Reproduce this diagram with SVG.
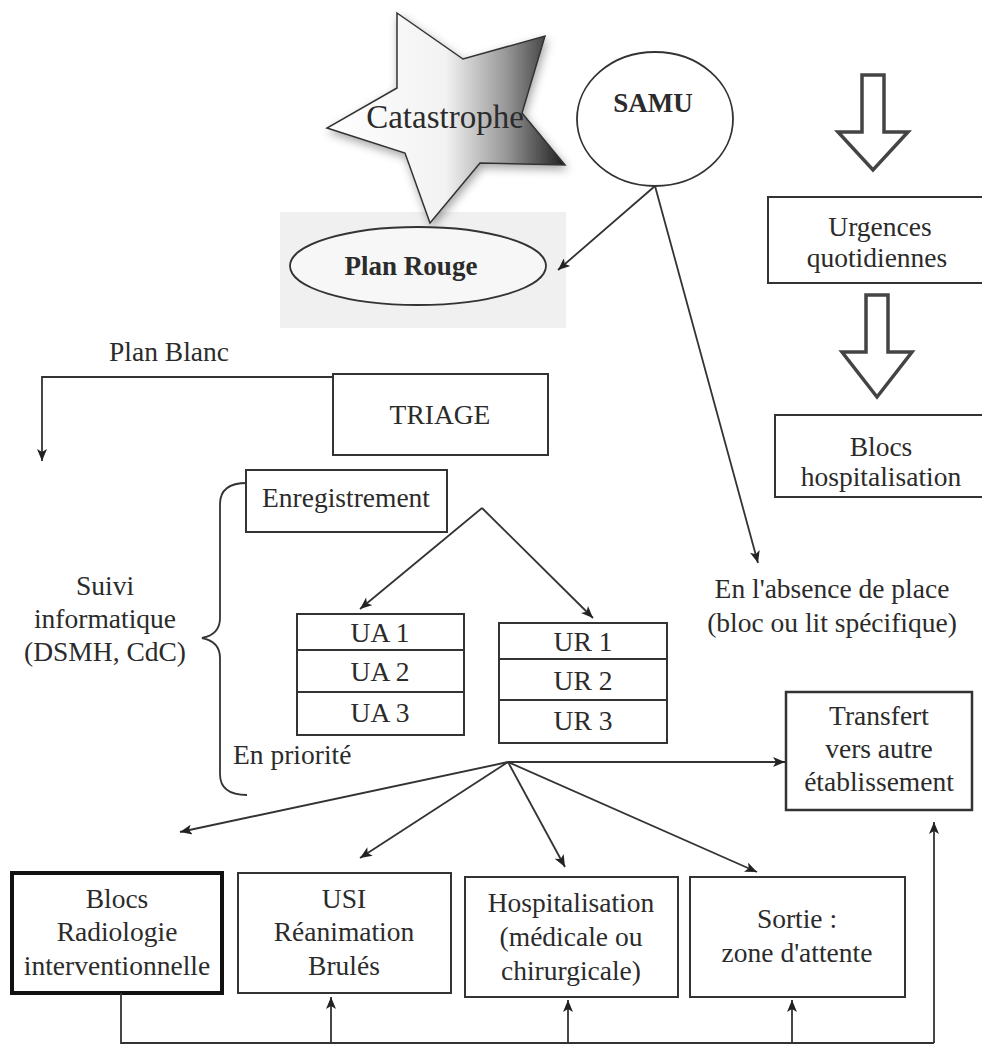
<svg xmlns="http://www.w3.org/2000/svg" width="982" height="1044" viewBox="0 0 982 1044">
<style>
text{font-family:"Liberation Serif","Times New Roman",serif;fill:#2b2b2b;text-anchor:middle;font-size:27.5px}
.b{font-weight:bold}
.box{fill:#fff;stroke:#333;stroke-width:2}
.ln{fill:none;stroke:#333;stroke-width:1.8}
.hol{fill:#fff;stroke:#444;stroke-width:3.5;stroke-linejoin:miter}
</style>
<defs>
<marker id="ah" viewBox="0 0 12 10" refX="12" refY="5" markerWidth="13" markerHeight="10" markerUnits="userSpaceOnUse" orient="auto">
<path d="M0,0 L12,5 L0,10 L3,5 Z" fill="#222"/>
</marker>
<linearGradient id="sg" x1="327" y1="0" x2="565" y2="0" gradientUnits="userSpaceOnUse">
<stop offset="0" stop-color="#fff"/>
<stop offset="0.5" stop-color="#f2f2f2"/>
<stop offset="0.75" stop-color="#999"/>
<stop offset="1" stop-color="#1e1e1e"/>
</linearGradient>
<filter id="sh" x="-20%" y="-20%" width="140%" height="140%">
<feDropShadow dx="2" dy="4" stdDeviation="5" flood-color="#000" flood-opacity="0.35"/>
</filter>
</defs>

<rect x="280" y="212" width="286" height="116" fill="#f0f0f0"/>

<g id="catastrophe">
<polygon points="397,13 463,59 545,36 522,113 565,165 480,163 430,223 405,153 327,128 397,88" fill="url(#sg)" stroke="#333" stroke-width="1.5" filter="url(#sh)"/>
<text x="445" y="128" style="font-size:33px">Catastrophe</text>
</g>

<g id="samu">
<ellipse cx="655" cy="119" rx="78" ry="67" fill="#fff" stroke="#333" stroke-width="1.8"/>
<text class="b" x="653" y="112" style="font-size:27px">SAMU</text>
</g>

<g id="plan-rouge">
<ellipse cx="418" cy="266" rx="128" ry="39" fill="#f7f7f7" stroke="#333" stroke-width="1.8"/>
<text class="b" x="411" y="275" style="font-size:27px">Plan Rouge</text>
</g>

<g id="urgences">
<polygon class="hol" points="862,75 884,75 884,132 908,132 873,170 838,132 862,132"/>
<rect class="box" x="768" y="197" width="216" height="86"/>
<text x="880" y="236">Urgences</text>
<text x="877" y="267">quotidiennes</text>
</g>

<g id="blocs-hosp">
<polygon class="hol" points="866,295 888,295 888,352 912,352 877,397 842,352 866,352"/>
<rect class="box" x="775" y="415" width="209" height="82"/>
<text x="881" y="456">Blocs</text>
<text x="881" y="486">hospitalisation</text>
</g>

<g id="plan-blanc"><text x="169" y="361">Plan Blanc</text></g>

<g id="triage">
<rect class="box" x="333" y="374" width="215" height="81"/>
<text x="440" y="424">TRIAGE</text>
</g>

<g id="enregistrement">
<rect class="box" x="246" y="470" width="201" height="62"/>
<text x="346" y="507">Enregistrement</text>
</g>

<g id="ua">
<rect class="box" x="297" y="614" width="167" height="121"/>
<line class="ln" x1="297" y1="650" x2="464" y2="650"/>
<line class="ln" x1="297" y1="692" x2="464" y2="692"/>
<text x="380" y="642">UA 1</text>
<text x="380" y="681">UA 2</text>
<text x="380" y="722">UA 3</text>
</g>

<g id="ur">
<rect class="box" x="499" y="623" width="168" height="120"/>
<line class="ln" x1="499" y1="659" x2="667" y2="659"/>
<line class="ln" x1="499" y1="700" x2="667" y2="700"/>
<text x="583" y="651">UR 1</text>
<text x="583" y="690">UR 2</text>
<text x="583" y="730">UR 3</text>
</g>

<g id="suivi">
<path class="ln" d="M247,483 C229,483 220,490 220,504 L220,618 C220,630 212,636 202,638 C212,640 220,646 220,658 L220,774 C220,788 229,795 247,795"/>
<text x="105" y="595">Suivi</text>
<text x="105" y="628">informatique</text>
<text x="105" y="661">(DSMH, CdC)</text>
<text x="233" y="764" style="text-anchor:start">En priorité</text>
</g>

<g id="absence">
<text x="832" y="598">En l'absence de place</text>
<text x="832" y="632">(bloc ou lit spécifique)</text>
</g>

<g id="transfert">
<rect class="box" x="786" y="692" width="186" height="118" style="stroke-width:2.5"/>
<text x="879" y="725">Transfert</text>
<text x="879" y="758">vers autre</text>
<text x="879" y="791">établissement</text>
</g>

<g id="blocs-radio">
<rect class="box" x="12" y="873" width="210" height="120" style="stroke:#111;stroke-width:4"/>
<text x="117" y="908">Blocs</text>
<text x="117" y="941">Radiologie</text>
<text x="117" y="975">interventionnelle</text>
</g>

<g id="usi">
<rect class="box" x="238" y="873" width="213" height="120"/>
<text x="344" y="908">USI</text>
<text x="344" y="941">Réanimation</text>
<text x="344" y="975">Brulés</text>
</g>

<g id="hospitalisation">
<rect class="box" x="465" y="877" width="213" height="120"/>
<text x="571" y="912">Hospitalisation</text>
<text x="571" y="946">(médicale ou</text>
<text x="571" y="980">chirurgicale)</text>
</g>

<g id="sortie">
<rect class="box" x="690" y="877" width="215" height="120"/>
<text x="797" y="928">Sortie :</text>
<text x="797" y="962">zone d'attente</text>
</g>

<g id="connectors" class="ln">
<line x1="655" y1="186" x2="558" y2="270" marker-end="url(#ah)"/>
<line x1="655" y1="186" x2="758" y2="563" marker-end="url(#ah)"/>
<polyline points="333,377 42,377 42,461" marker-end="url(#ah)"/>
<line x1="482" y1="508" x2="360" y2="609" marker-end="url(#ah)"/>
<line x1="482" y1="508" x2="593" y2="618" marker-end="url(#ah)"/>
<line x1="508" y1="762" x2="785" y2="762" marker-end="url(#ah)"/>
<line x1="508" y1="762" x2="180" y2="832" marker-end="url(#ah)"/>
<line x1="508" y1="762" x2="360" y2="858" marker-end="url(#ah)"/>
<line x1="508" y1="762" x2="565" y2="867" marker-end="url(#ah)"/>
<line x1="508" y1="762" x2="757" y2="872" marker-end="url(#ah)"/>
<polyline points="121,993 121,1043 934,1043"/>
<line x1="934" y1="1043" x2="934" y2="822" marker-end="url(#ah)"/>
<line x1="331" y1="1043" x2="331" y2="997" marker-end="url(#ah)"/>
<line x1="568" y1="1043" x2="568" y2="1000" marker-end="url(#ah)"/>
<line x1="792" y1="1043" x2="792" y2="1000" marker-end="url(#ah)"/>
</g>
</svg>
